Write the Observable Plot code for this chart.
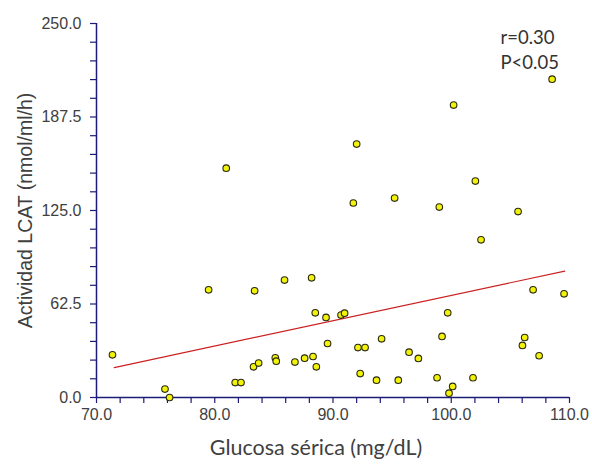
<!DOCTYPE html>
<html>
<head>
<meta charset="utf-8">
<script src="https://cdn.jsdelivr.net/npm/d3@7"></script>
<script src="https://cdn.jsdelivr.net/npm/@observablehq/plot@0.6"></script>
<style>
  html, body { margin: 0; padding: 0; background: #fff; }
</style>
</head>
<body>
<div id="chart"></div>
<script>
// Serum glucose (mg/dL) and LCAT activity (nmol/ml/h)
const glucose = [71.35, 79.48, 83.37, 85.90, 88.19, 88.50, 89.41, 90.68, 90.98, 89.54,
  75.79, 76.18, 81.73, 82.22, 83.28, 83.71, 85.12, 85.20, 86.78, 87.60,
  88.31, 88.59, 80.97, 92.00, 100.20, 108.53, 102.04, 91.72, 95.21, 98.99,
  105.65, 102.52, 106.92, 109.54, 99.70, 92.11, 92.71, 94.11, 99.22, 106.21,
  106.02, 107.43, 96.43, 97.22, 92.30, 93.68, 95.52, 98.80, 101.84, 100.12, 99.81];
const lcat = [28.5, 72.0, 71.3, 78.5, 80.0, 56.6, 53.5, 55.1, 56.4, 36.1,
  5.6, 0.0, 10.0, 10.0, 20.5, 23.0, 26.5, 24.3, 23.7, 26.3,
  27.4, 20.5, 153.3, 169.4, 195.5, 212.8, 144.7, 130.0, 133.3, 127.3,
  124.3, 105.4, 72.0, 69.3, 56.6, 33.4, 33.4, 39.2, 40.8, 40.1,
  34.8, 27.9, 30.3, 26.1, 16.0, 11.6, 11.6, 13.2, 13.2, 7.4, 2.9];

// Regression line end points
const fitX = [71.5, 109.6];
const fitY = [20.0, 84.5];

// Tick values and labels
const xTicks = d3.range(70, 110.001, 2);
const yTicks = d3.range(0, 250.001, 12.5);
const xLabelTicks = [70, 80, 90, 100, 110];
const yLabelTicks = [0, 62.5, 125, 187.5, 250];

const xTitle = "Glucosa sérica (mg/dL)";
const yTitle = "Actividad LCAT (nmol/ml/h)";
const statR = "r=0.30";
const statP = "P<0.05";

const points = glucose.map((g, i) => ({x: g, y: lcat[i]}));
const fit = fitX.map((x, i) => ({x, y: fitY[i]}));

const axisColor = "#1c1c78";
const textColor = "#404040";
const titleFont = "Lato, 'Open Sans', sans-serif";
const arialFont = "'Liberation Sans', Arial, sans-serif";

const chart = Plot.plot({
  width: 592,
  height: 464,
  marginLeft: 96,
  marginRight: 23,
  marginTop: 23,
  marginBottom: 67,
  style: {fontFamily: arialFont, fontSize: "16px", background: "#fff"},
  x: {domain: [70, 110], axis: null},
  y: {domain: [0, 250], axis: null},
  marks: [
    // minor + major ticks
    Plot.axisX({ticks: xTicks, tickSize: 6, stroke: axisColor, strokeWidth: 1.2, tickFormat: () => "", label: null}),
    Plot.axisY({ticks: yTicks, tickSize: 6, stroke: axisColor, strokeWidth: 1.2, tickFormat: () => "", label: null}),
    // labels
    Plot.axisX({ticks: xLabelTicks, tickSize: 0, tickPadding: 11, tickFormat: d => d.toFixed(1), fill: textColor, fontSize: 16, label: null}),
    Plot.axisY({ticks: yLabelTicks, tickSize: 0, tickPadding: 15, tickFormat: d => d.toFixed(1), fill: textColor, fontSize: 16, label: null}),
    Plot.ruleY([0], {stroke: axisColor, strokeWidth: 1.5}),
    Plot.ruleX([70], {stroke: axisColor, strokeWidth: 1.5}),
    // regression line
    Plot.line(fit, {x: "x", y: "y", stroke: "#cc2020", strokeWidth: 1.2}),
    // points
    Plot.dot(points, {x: "x", y: "y", r: 3.3, fill: "#f2f20a", stroke: "#2a2a10", strokeWidth: 1.1}),
    // axis titles
    Plot.text([xTitle], {frameAnchor: "bottom", textAnchor: "middle", dx: -17, dy: 57, fontFamily: titleFont, fontSize: 21.5, fill: textColor}),
    Plot.text([yTitle], {frameAnchor: "left", textAnchor: "middle", rotate: -90, dx: -71, fontFamily: arialFont, fontSize: 19.5, fill: textColor}),
    // stats annotation
    Plot.text([statR], {frameAnchor: "top-right", textAnchor: "start", lineAnchor: "middle", dx: -69, dy: 15,
      fontFamily: titleFont, fontSize: 18.5, fill: "#333"}),
    Plot.text([statP], {frameAnchor: "top-right", textAnchor: "start", lineAnchor: "middle", dx: -69, dy: 40,
      fontFamily: titleFont, fontSize: 18.5, fill: "#333"})
  ]
});
document.getElementById("chart").appendChild(chart);
</script>
</body>
</html>
